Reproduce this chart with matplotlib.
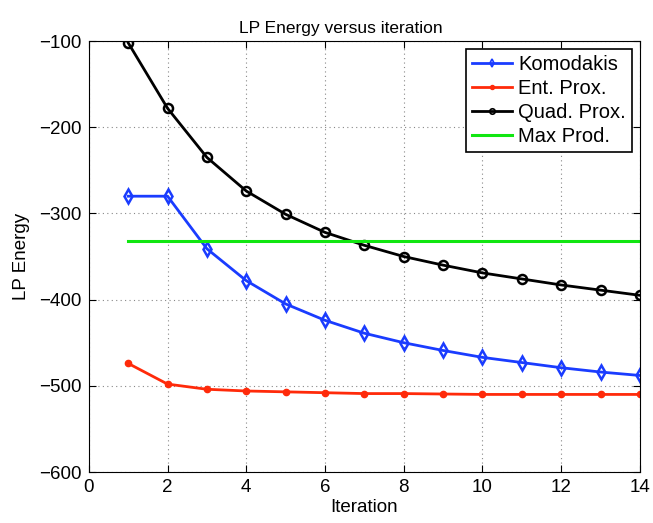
import numpy as np
import matplotlib
matplotlib.use('Agg')
import matplotlib.pyplot as plt

plt.rcParams['font.family'] = ['Liberation Sans', 'DejaVu Sans']

iters = np.arange(1, 15)
komodakis = [-280, -280, -341, -378, -405, -424, -439, -450, -459, -467, -473, -479, -484, -488]
ent_prox = [-474, -498, -504, -506, -507, -508, -509, -509, -509.5, -510, -510, -510, -510, -510]
quad_prox = [-102, -178, -235, -274, -301, -322, -337, -350, -360, -369, -376, -383, -389, -395]
max_prod = [-332] * 14

fig = plt.figure(figsize=(6.53, 5.23), dpi=100)
ax = fig.add_axes([0.136, 0.0975, 0.844, 0.824])

ax.plot(iters, komodakis, '-d', color='#1a3cff', lw=2, ms=7, mfc='none', mew=1.8, label='Komodakis')
ax.plot(iters, ent_prox, '-o', color='#ff2a0a', lw=2, ms=4.5, label='Ent. Prox.')
ax.plot(iters, quad_prox, '-o', color='black', lw=2, ms=6.5, mfc='none', mew=1.8, label='Quad. Prox.')
ax.plot(iters, max_prod, '-', color='#11e611', lw=2.2, label='Max Prod.')

ax.set_xlim(0, 14)
ax.set_ylim(-600, -100)
ax.set_xticks(range(0, 15, 2))
ax.set_yticks(range(-600, -99, 100))
ax.set_yticklabels(['\u2212%d' % abs(v) for v in range(-600, -99, 100)])
ax.tick_params(direction='in', labelsize=13.5, length=5, top=True, right=True, pad=5)
ax.grid(True, linestyle=(0, (1, 3)), color='#888888', lw=0.8)
ax.set_xlabel('Iteration', fontsize=13.5, labelpad=2)
ax.set_ylabel('LP Energy', fontsize=13.5, labelpad=7)
ax.set_title('LP Energy versus iteration', fontsize=12.5, pad=6, x=0.457)

leg = ax.legend(loc='upper right', fontsize=14.5, fancybox=False, framealpha=1,
                edgecolor='black', handlelength=2.0, borderpad=0.3, labelspacing=0.24,
                handletextpad=0.3, borderaxespad=0.4, markerscale=0.6)
leg.get_frame().set_linewidth(1.2)
for h in leg.legend_handles:
    h.set_markeredgewidth(1.2)

fig.savefig('out.png', dpi=100)
